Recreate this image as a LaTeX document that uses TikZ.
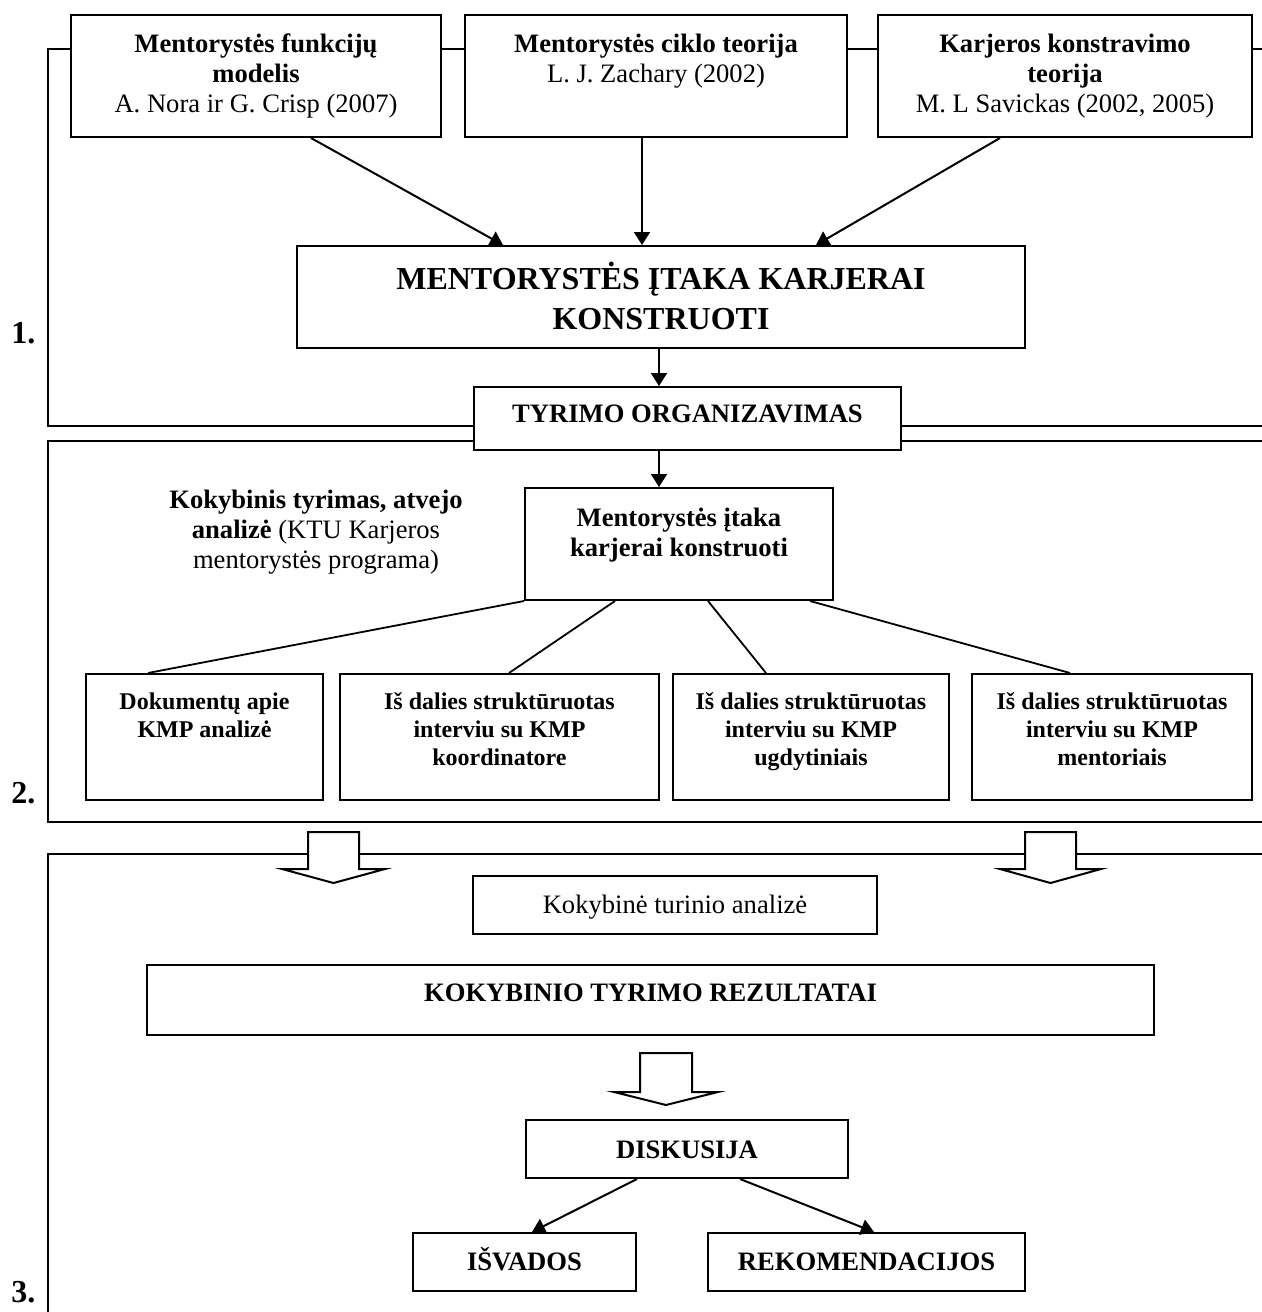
\documentclass[tikz,border=0pt]{standalone}
\usepackage{fontspec}
\setmainfont{Liberation Serif}
\usetikzlibrary{calc,arrows.meta}
\newcommand{\tbox}[4]{\parbox[c][#2][t]{#1}{\centering\rule{0pt}{#3}#4\par}}
\tikzset{
  frameline/.style={line width=1pt},
  bx/.style={draw, line width=1pt, inner sep=0pt, anchor=north west, fill=white},
  arr/.style={line width=1pt, -{Triangle[length=6.5pt,width=8pt]}},
  ln/.style={line width=0.9pt},
  hollow/.style={draw, fill=white, line width=1pt, line join=miter},
  numlab/.style={anchor=base west, inner sep=0pt, font=\fontsize{16}{18}\selectfont\bfseries},
  small/.style={font=\fontsize{12}{14}\selectfont}
}
\begin{document}
\begin{tikzpicture}[x=0.5pt, y=-0.5pt, font=\fontsize{13.3}{15}\selectfont]
\useasboundingbox (0,0) rectangle (1262,1312);

% section frames
\draw[frameline] (70,49) -- (48,49) -- (48,426) -- (473,426);
\draw[frameline] (440,49) -- (464,49);
\draw[frameline] (846,49) -- (877,49);
\draw[frameline] (1251,49) -- (1262,49);
\draw[frameline] (900,426) -- (1262,426);
\draw[frameline] (473,441) -- (48,441) -- (48,822) -- (1262,822);
\draw[frameline] (900,441) -- (1262,441);
\draw[frameline] (48,1312) -- (48,854) -- (1262,854);

% section numbers
\node[numlab] (n1) at (11,343) {1.};
\node[numlab] (n2) at (11,803) {2.};
\node[numlab] (n3) at (11,1302) {3.};

% section 1
\node[bx] (b1) at (70,14) {\tbox{185pt}{61pt}{18.5pt}{\textbf{Mentorystės funkcijų}\\\textbf{modelis}\\A. Nora ir G. Crisp (2007)}};
\node[bx] (b2) at (464,14) {\tbox{191pt}{61pt}{18.5pt}{\textbf{Mentorystės ciklo teorija}\\L. J. Zachary (2002)}};
\node[bx] (b3) at (877,14) {\tbox{187pt}{61pt}{18.5pt}{\textbf{Karjeros konstravimo}\\\textbf{teorija}\\M. L Savickas (2002, 2005)}};
\node[bx] (big) at (296,245) {\tbox{364pt}{51pt}{21.5pt}{\fontsize{16}{20}\selectfont\bfseries MENTORYSTĖS ĮTAKA KARJERAI\\KONSTRUOTI}};
\node[bx] (tyr) at (473,386) {\tbox{213.5pt}{31.5pt}{17.5pt}{\textbf{TYRIMO ORGANIZAVIMAS}}};

\draw[arr] ($(b1.south)+(55,0)$) -- ($(big.north)+(-158,0)$);
\draw[arr] ($(b2.south)+(-14,0)$) -- ($(big.north)+(-19,0)$);
\draw[arr] ($(b3.south)+(-65,0)$) -- ($(big.north)+(155,0)$);
\draw[arr] ($(big.south)+(-2,0)$) -- ($(tyr.north)+(-28.5,0)$);

% section 2
\node[anchor=base, inner sep=0pt] (kt) at (316,508) {\parbox[t]{170pt}{\centering\textbf{Kokybinis tyrimas, atvejo}\\\textbf{analizė} (KTU Karjeros\\mentorystės programa)\par}};
\node[bx] (mi) at (524,487) {\tbox{154pt}{56pt}{19pt}{\textbf{Mentorystės įtaka}\\\textbf{karjerai konstruoti}}};
\draw[arr] ($(tyr.south)+(-28.5,0)$) -- ($(mi.north)+(-20,0)$);

\node[bx, small] (d1) at (85,673) {\tbox{118.5pt}{63pt}{17.5pt}{\textbf{Dokumentų apie}\\\textbf{KMP analizė}}};
\node[bx, small] (d2) at (339,673) {\tbox{159.5pt}{63pt}{17.5pt}{\textbf{Iš dalies struktūruotas}\\\textbf{interviu su KMP}\\\textbf{koordinatore}}};
\node[bx, small] (d3) at (672,673) {\tbox{138pt}{63pt}{17.5pt}{\textbf{Iš dalies struktūruotas}\\\textbf{interviu su KMP}\\\textbf{ugdytiniais}}};
\node[bx, small] (d4) at (971,673) {\tbox{140pt}{63pt}{17.5pt}{\textbf{Iš dalies struktūruotas}\\\textbf{interviu su KMP}\\\textbf{mentoriais}}};

\draw[ln] (mi.south west) -- ($(d1.north)+(-56.5,0)$);
\draw[ln] ($(mi.south)+(-64,0)$) -- ($(d2.north)+(9.5,0)$);
\draw[ln] ($(mi.south)+(29,0)$) -- ($(d3.north)+(-45,0)$);
\draw[ln] ($(mi.south)+(131,0)$) -- ($(d4.north)+(-42,0)$);

% block arrows between sections 2 and 3
\draw[hollow] (308,832) -- (359,832) -- (359,869) -- (385,869) -- (333.5,883) -- (282,869) -- (308,869) -- cycle;
\draw[hollow] (1025,832) -- (1076,832) -- (1076,869) -- (1101,869) -- (1050.5,883) -- (1000,869) -- (1025,869) -- cycle;

% section 3
\node[bx] (kta) at (472,875) {\tbox{202pt}{29pt}{18.5pt}{Kokybinė turinio analizė}};
\node[bx] (ktr) at (146,964) {\tbox{503.5pt}{35pt}{18pt}{\textbf{KOKYBINIO TYRIMO REZULTATAI}}};
\draw[hollow] (640,1053) -- (692,1053) -- (692,1092) -- (718,1092) -- (666,1105) -- (614,1092) -- (640,1092) -- cycle;
\node[bx] (dis) at (525,1119) {\tbox{161pt}{29pt}{19pt}{\textbf{DISKUSIJA}}};
\node[bx] (isv) at (412,1232) {\tbox{111.5pt}{29pt}{18.5pt}{\textbf{IŠVADOS}}};
\node[bx] (rek) at (707,1232) {\tbox{158.5pt}{29pt}{18.5pt}{\textbf{REKOMENDACIJOS}}};
\draw[arr] ($(dis.south)+(-50,0)$) -- ($(isv.north)+(7.5,0)$);
\draw[arr] ($(dis.south)+(53,0)$) -- ($(rek.north)+(7.5,0)$);
\end{tikzpicture}
\end{document}
